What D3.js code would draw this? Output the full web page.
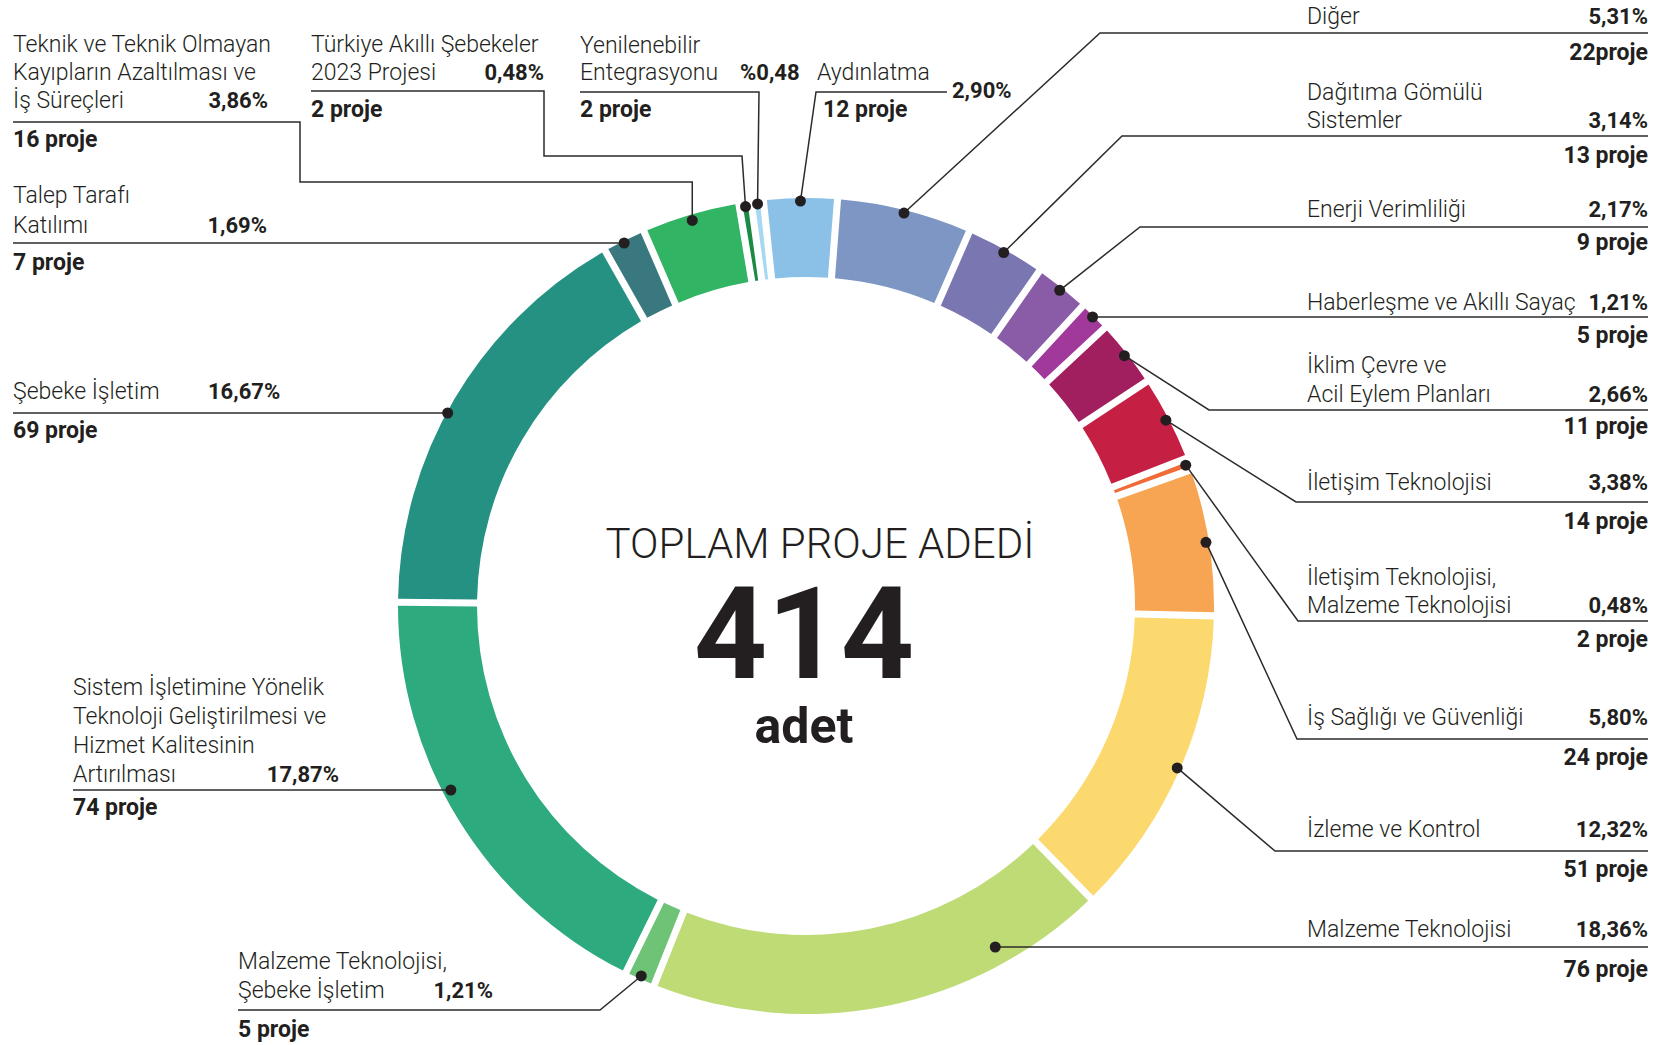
<!DOCTYPE html>
<html>
<head>
<meta charset="utf-8">
<script src="https://cdn.jsdelivr.net/npm/d3@7"></script>
<style>
  html, body { margin: 0; padding: 0; background: #fff; }
  svg { display: block; font-family: Roboto, "Noto Sans", sans-serif; }
</style>
</head>
<body>
<div id="chart"></div>
<script>
// --- data ---
const categories = [
  'Aydınlatma',
  'Diğer',
  'Dağıtıma Gömülü\nSistemler',
  'Enerji Verimliliği',
  'Haberleşme ve Akıllı Sayaç',
  'İklim Çevre ve\nAcil Eylem Planları',
  'İletişim Teknolojisi',
  'İletişim Teknolojisi,\nMalzeme Teknolojisi',
  'İş Sağlığı ve Güvenliği',
  'İzleme ve Kontrol',
  'Malzeme Teknolojisi',
  'Malzeme Teknolojisi,\nŞebeke İşletim',
  'Sistem İşletimine Yönelik\nTeknoloji Geliştirilmesi ve\nHizmet Kalitesinin\nArtırılması',
  'Şebeke İşletim',
  'Talep Tarafı\nKatılımı',
  'Teknik ve Teknik Olmayan\nKayıpların Azaltılması ve\nİş Süreçleri',
  'Türkiye Akıllı Şebekeler\n2023 Projesi',
  'Yenilenebilir\nEntegrasyonu'
];
const projects = [12, 22, 13, 9, 5, 11, 14, 2, 24, 51, 76, 5, 74, 69, 7, 16, 2, 2];
const shareLabels = ['2,90%', '5,31%', '3,14%', '2,17%', '1,21%', '2,66%', '3,38%', '0,48%', '5,80%',
  '12,32%', '18,36%', '1,21%', '17,87%', '16,67%', '1,69%', '3,86%', '0,48%', '%0,48'];
const projectLabels = ['12 proje', '22proje', '13 proje', '9 proje', '5 proje', '11 proje', '14 proje',
  '2 proje', '24 proje', '51 proje', '76 proje', '5 proje', '74 proje', '69 proje', '7 proje',
  '16 proje', '2 proje', '2 proje'];
const colors = ['#8cc1e7', '#7e96c4', '#7a76b2', '#8a5ba7', '#a0399a', '#a11e5f', '#c61f44', '#ef6b3a',
  '#f7a552', '#fbd96e', '#bedb76', '#6ec377', '#2eaa7f', '#259183', '#3a7880', '#31b464', '#1b8a45', '#a5d9f2'];
const totalTitle = 'TOPLAM PROJE ADEDİ';
const totalUnit = 'adet';

// --- label layout (positions only) ---
const R = 1648; // right edge of the right-hand label column
const NX = 1307; // left edge of right-hand names
const layout = [
  { nx: 817, ny: [80], px: 952, py: 98, pa: 'start', jx: 823, jy: 117, ja: 'start', dot: { r: 405 }, path: [[947, 92], [816, 92]] },
  { nx: NX, ny: [24], px: R, py: 24, pa: 'end', jx: R, jy: 60, ja: 'end', dot: { r: 405 }, path: [[R, 33], [1100, 33]] },
  { nx: NX, ny: [100, 128], px: R, py: 128, pa: 'end', jx: R, jy: 163, ja: 'end', dot: { r: 405 }, path: [[R, 136], [1122, 136]] },
  { nx: NX, ny: [217], px: R, py: 217, pa: 'end', jx: R, jy: 250, ja: 'end', dot: { r: 405 }, path: [[R, 227], [1140, 227]] },
  { nx: NX, ny: [310], px: R, py: 310, pa: 'end', jx: R, jy: 343, ja: 'end', dot: { r: 407, y: 317 }, path: [[R, 317]] },
  { nx: NX, ny: [373, 402], px: R, py: 402, pa: 'end', jx: R, jy: 434, ja: 'end', dot: { r: 405 }, path: [[R, 410], [1209, 410]] },
  { nx: NX, ny: [490], px: R, py: 490, pa: 'end', jx: R, jy: 529, ja: 'end', dot: { r: 405 }, path: [[R, 502], [1296, 502]] },
  { nx: NX, ny: [585, 613], px: R, py: 613, pa: 'end', jx: R, jy: 647, ja: 'end', dot: { r: 405 }, path: [[R, 621], [1298, 621]] },
  { nx: NX, ny: [725], px: R, py: 725, pa: 'end', jx: R, jy: 765, ja: 'end', dot: { r: 405 }, path: [[R, 739], [1297, 739]] },
  { nx: NX, ny: [837], px: R, py: 837, pa: 'end', jx: R, jy: 877, ja: 'end', dot: { r: 405 }, path: [[R, 851], [1275, 851]] },
  { nx: NX, ny: [937], px: R, py: 937, pa: 'end', jx: R, jy: 977, ja: 'end', dot: { r: 390, y: 947 }, path: [[R, 947]] },
  { nx: 238, ny: [969, 998], px: 493, py: 998, pa: 'end', jx: 238, jy: 1037, ja: 'start', dot: { r: 405 }, path: [[238, 1010], [600, 1010]] },
  { nx: 73, ny: [695, 724, 753, 782], px: 339, py: 782, pa: 'end', jx: 73, jy: 815, ja: 'start', dot: { r: 400, y: 790 }, path: [[73, 790]] },
  { nx: 13, ny: [399], px: 208, py: 399, pa: 'start', jx: 13, jy: 438, ja: 'start', dot: { r: 407, y: 413 }, path: [[13, 413]] },
  { nx: 13, ny: [203, 233], px: 267, py: 233, pa: 'end', jx: 13, jy: 270, ja: 'start', dot: { r: 406, y: 243 }, path: [[13, 243]] },
  { nx: 13, ny: [52, 80, 108], px: 268, py: 108, pa: 'end', jx: 13, jy: 147, ja: 'start', dot: { r: 402 }, path: [[13, 122], [300, 122], [300, 182], ['dx', 182]] },
  { nx: 311, ny: [52, 80], px: 544, py: 80, pa: 'end', jx: 311, jy: 117, ja: 'start', dot: { r: 404 }, path: [[311, 91], [544, 91], [544, 156], [742, 156]] },
  { nx: 580, ny: [53, 80], px: 740, py: 80, pa: 'start', jx: 580, jy: 117, ja: 'start', dot: { r: 405 }, path: [[580, 92], [759, 92]] }
];

const W = 1663, H = 1045;
const cx = 806, cy = 606;
const outerR = 408, innerR = 329;
const ink = '#231f20';

const svg = d3.select('#chart').append('svg')
  .attr('width', W)
  .attr('height', H);

const pie = d3.pie()
  .sort(null)
  .value(d => d)
  .startAngle(-6 * Math.PI / 180)
  .endAngle(-6 * Math.PI / 180 + 2 * Math.PI);

const arcs = pie(projects);

const arc = d3.arc()
  .innerRadius(innerR)
  .outerRadius(outerR)
  .padAngle(0.0135);

const ring = svg.append('g').attr('transform', `translate(${cx},${cy})`);

ring.selectAll('path')
  .data(arcs)
  .join('path')
    .attr('d', arc)
    .attr('fill', (d, i) => colors[i]);

// dot position on the ring: mid angle, or where a horizontal line at y meets the ring
function dotPos(d, spec) {
  const mid = (d.startAngle + d.endAngle) / 2;
  if (spec.y === undefined) {
    return [cx + spec.r * Math.sin(mid), cy - spec.r * Math.cos(mid)];
  }
  const dy = spec.y - cy;
  const dx = Math.sqrt(spec.r * spec.r - dy * dy);
  return [cx + (Math.sin(mid) >= 0 ? dx : -dx), spec.y];
}

const line = d3.line();
const labels = svg.append('g');

arcs.forEach((d, i) => {
  const L = layout[i];
  const dot = dotPos(d, L.dot);
  const pts = L.path.map(p => [p[0] === 'dx' ? dot[0] : p[0], p[1]]);
  pts.push(dot);

  labels.append('path')
    .attr('d', line(pts))
    .attr('fill', 'none')
    .attr('stroke', '#2b2b2b')
    .attr('stroke-width', 1.5);

  labels.append('circle')
    .attr('cx', dot[0])
    .attr('cy', dot[1])
    .attr('r', 5.5)
    .attr('fill', ink);

  const nameLines = categories[i].split('\n');
  nameLines.forEach((t, k) => {
    labels.append('text')
      .attr('x', L.nx)
      .attr('y', L.ny[k])
      .attr('fill', ink)
      .attr('font-size', 23)
      .attr('font-weight', 300)
      .text(t);
  });

  labels.append('text')
    .attr('x', L.px)
    .attr('y', L.py)
    .attr('text-anchor', L.pa)
    .attr('fill', ink)
    .attr('font-size', 22)
    .attr('font-weight', 700)
    .text(shareLabels[i]);

  labels.append('text')
    .attr('x', L.jx)
    .attr('y', L.jy)
    .attr('text-anchor', L.ja)
    .attr('fill', ink)
    .attr('font-size', 23)
    .attr('font-weight', 700)
    .text(projectLabels[i]);
});

// centre
const total = d3.sum(projects);
const centre = svg.append('g').attr('fill', ink).attr('text-anchor', 'middle');
centre.append('text')
  .attr('x', 820).attr('y', 558)
  .attr('font-size', 42).attr('font-weight', 300)
  .text(totalTitle);
const big = centre.append('text').attr('font-weight', 700);
big.append('tspan')
  .attr('x', 804).attr('y', 678)
  .attr('font-size', 128)
  .text(total);
big.append('tspan')
  .attr('x', 804).attr('y', 743)
  .attr('font-size', 50)
  .text(totalUnit);
</script>
</body>
</html>
